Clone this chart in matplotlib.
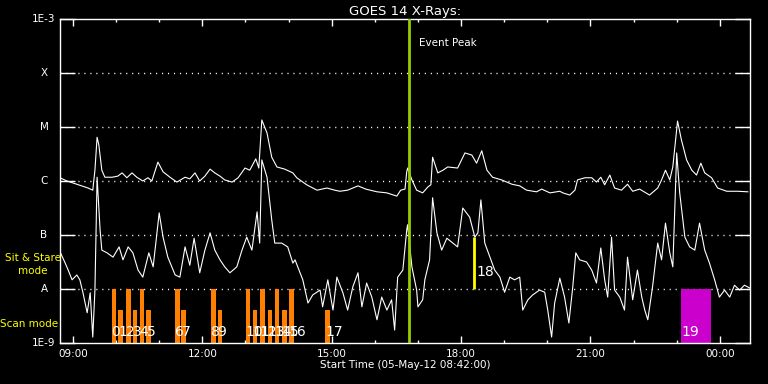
import matplotlib
matplotlib.use('Agg')
import matplotlib.pyplot as plt
import numpy as np

# 时间 (小时, 05-May-12 00:00 起), 通量用 log10(W/m^2)
t_long = [8.70, 8.86, 9.09, 9.35, 9.46, 9.51, 9.56, 9.60, 9.67, 9.74, 9.91, 10.04, 10.14, 10.25,
          10.37, 10.48, 10.62, 10.74, 10.83, 10.97, 11.09, 11.25, 11.41, 11.60, 11.71, 11.83, 11.94,
          12.06, 12.18, 12.29, 12.41, 12.52, 12.69, 12.83, 12.99, 13.10, 13.24, 13.31, 13.38, 13.50,
          13.61, 13.73, 13.91, 14.10, 14.19, 14.42, 14.66, 14.89, 15.07, 15.19, 15.37, 15.61, 15.79,
          16.05, 16.28, 16.51, 16.60, 16.70, 16.74, 16.76, 16.86, 16.97, 17.11, 17.23, 17.30, 17.34,
          17.46, 17.58, 17.69, 17.92, 18.09, 18.25, 18.36, 18.48, 18.60, 18.73, 18.94, 19.18, 19.36,
          19.52, 19.75, 19.87, 20.06, 20.29, 20.36, 20.52, 20.64, 20.70, 20.87, 21.03, 21.14, 21.24,
          21.33, 21.45, 21.56, 21.72, 21.86, 21.98, 22.14, 22.37, 22.56, 22.65, 22.74, 22.84, 22.91,
          23.02, 23.11, 23.23, 23.35, 23.46, 23.56, 23.65, 23.81, 23.95, 24.16, 24.41, 24.65]
lg_long = [-5.94, -6.00, -6.06, -6.13, -6.17, -5.80, -5.19, -5.33, -5.80, -5.93, -5.93, -5.91, -5.85, -5.94,
           -5.85, -5.93, -6.00, -5.94, -6.00, -5.65, -5.83, -5.93, -6.02, -5.93, -5.96, -5.85, -6.00,
           -5.91, -5.78, -5.85, -5.91, -5.98, -6.02, -5.94, -5.76, -5.80, -5.59, -5.76, -4.87, -5.11,
           -5.56, -5.74, -5.78, -5.85, -5.94, -6.07, -6.17, -6.13, -6.17, -6.19, -6.17, -6.09, -6.15,
           -6.20, -6.22, -6.28, -6.17, -6.15, -5.83, -5.76, -5.98, -6.17, -6.22, -6.11, -6.07, -5.56,
           -5.85, -5.80, -5.74, -5.76, -5.48, -5.52, -5.67, -5.44, -5.80, -5.93, -5.98, -6.06, -6.09,
           -6.17, -6.20, -6.15, -6.22, -6.19, -6.22, -6.26, -6.17, -5.98, -5.94, -5.94, -6.02, -5.93,
           -6.07, -5.89, -6.13, -6.17, -6.06, -6.19, -6.15, -6.26, -6.13, -5.98, -5.80, -5.98, -5.74,
           -4.89, -5.24, -5.61, -5.80, -5.89, -5.67, -5.85, -5.94, -6.13, -6.19, -6.19, -6.20]

t_short = [8.70, 8.82, 8.89, 8.98, 9.09, 9.16, 9.23, 9.33, 9.40, 9.46, 9.51, 9.56, 9.63, 9.67, 9.79,
           9.93, 10.07, 10.16, 10.28, 10.39, 10.51, 10.62, 10.76, 10.86, 11.00, 11.09, 11.20, 11.37,
           11.48, 11.60, 11.71, 11.81, 11.94, 12.06, 12.18, 12.29, 12.41, 12.52, 12.64, 12.80, 12.92,
           13.03, 13.15, 13.27, 13.33, 13.38, 13.50, 13.61, 13.68, 13.84, 13.98, 14.10, 14.15, 14.33,
           14.45, 14.56, 14.73, 14.79, 14.91, 15.03, 15.12, 15.26, 15.37, 15.49, 15.61, 15.70, 15.81,
           15.93, 16.05, 16.16, 16.28, 16.39, 16.46, 16.53, 16.65, 16.74, 16.76, 16.86, 16.97, 17.00,
           17.11, 17.16, 17.27, 17.34, 17.44, 17.55, 17.67, 17.81, 17.92, 18.04, 18.20, 18.32, 18.39,
           18.46, 18.55, 18.67, 18.78, 18.90, 19.01, 19.13, 19.24, 19.36, 19.43, 19.55, 19.66, 19.82,
           19.94, 20.01, 20.10, 20.17, 20.29, 20.40, 20.50, 20.59, 20.66, 20.75, 20.91, 21.03, 21.14,
           21.24, 21.33, 21.40, 21.49, 21.56, 21.68, 21.79, 21.86, 21.98, 22.09, 22.19, 22.26, 22.33,
           22.44, 22.56, 22.65, 22.74, 22.84, 22.91, 23.00, 23.07, 23.19, 23.30, 23.42, 23.53, 23.65,
           23.76, 23.88, 23.99, 24.11, 24.23, 24.34, 24.46, 24.57, 24.69]
lg_short = [-7.31, -7.52, -7.65, -7.83, -7.74, -7.83, -8.06, -8.44, -8.07, -8.89, -8.02, -5.93, -6.91, -7.28, -7.33,
            -7.41, -7.22, -7.46, -7.22, -7.33, -7.65, -7.78, -7.33, -7.59, -6.59, -7.04, -7.41, -7.74,
            -7.78, -7.22, -7.56, -7.06, -7.70, -7.28, -6.96, -7.28, -7.46, -7.59, -7.70, -7.59, -7.28,
            -7.04, -7.28, -6.57, -7.15, -5.61, -5.93, -6.72, -7.15, -7.15, -7.22, -7.52, -7.46, -7.83,
            -8.26, -8.11, -8.02, -8.33, -7.83, -8.39, -7.78, -8.07, -8.39, -7.96, -7.70, -8.33, -7.89,
            -8.15, -8.57, -8.15, -8.39, -8.20, -8.76, -7.78, -7.65, -6.91, -6.81, -7.59, -8.02, -8.33,
            -8.20, -7.83, -7.46, -6.31, -6.96, -7.28, -7.06, -7.15, -7.22, -6.50, -6.67, -7.04, -6.96,
            -6.35, -7.15, -7.41, -7.65, -7.78, -8.06, -7.78, -7.83, -7.78, -8.39, -8.20, -8.11, -8.02,
            -8.06, -8.39, -8.89, -8.26, -7.80, -8.15, -8.63, -7.96, -7.33, -7.46, -7.50, -7.65, -7.89,
            -7.24, -7.83, -8.15, -7.04, -8.02, -8.15, -8.39, -7.41, -8.20, -7.65, -8.15, -8.39, -8.57,
            -7.96, -7.15, -7.46, -6.78, -7.33, -7.59, -5.48, -6.22, -7.04, -7.22, -7.28, -6.78, -7.28,
            -7.52, -7.83, -8.15, -8.02, -8.15, -7.93, -8.02, -7.93, -7.98]

# 扫描模式观测 0-17
scan_t = [9.95, 10.11, 10.28, 10.44, 10.60, 10.76, 11.42, 11.57, 12.26, 12.41,
          13.06, 13.22, 13.39, 13.57, 13.73, 13.90, 14.06, 14.91]
scan_top = [1e-8, 4e-9, 1e-8, 4e-9, 1e-8, 4e-9, 1e-8, 4e-9, 1e-8, 4e-9,
            1e-8, 4e-9, 1e-8, 4e-9, 1e-8, 4e-9, 1e-8, 4e-9]
scan_id = list(range(18))

# 凝视模式 18, 扫描 19
sit_t = 18.29
sit_top = 9.3e-8
box_start = 23.09
box_end = 23.79
peak_t = 16.79

levels = [1e-9, 1e-8, 1e-7, 1e-6, 1e-5, 1e-4, 1e-3]
level_names = ['1E-9', 'A', 'B', 'C', 'M', 'X', '1E-3']
hour_major = [9, 12, 15, 18, 21, 24]
hour_labels = ['09:00', '12:00', '15:00', '18:00', '21:00', '00:00']

fig = plt.figure(figsize=(7.68, 3.84), dpi=100, facecolor='black')
ax = fig.add_axes([60/768, 41/384, 690/768, 324/384], facecolor='black')
ax.set_yscale('log')
ax.set_ylim(1e-9, 1e-3)
ax.set_xlim(8.7, 24.7)

# 网格
for lv in levels[1:-1]:
    ax.axhline(lv, color='white', lw=1, ls=(0, (0.8, 3.5)), zorder=1)

# 扫描模式柱子
bw = 0.11
ax.bar(scan_t, np.array(scan_top) - 1e-9, bottom=1e-9, width=bw, color='#ff8000', zorder=2)
for t, i in zip(scan_t, scan_id):
    ax.text(t - bw/2, 1.6e-9, str(i), color='white', fontsize=10, va='center', ha='left', zorder=5)

ax.bar([box_start], [1e-8 - 1e-9], bottom=1e-9, width=box_end - box_start, align='edge',
       color='#cc00cc', zorder=2)
ax.text(box_start + 0.02, 1.6e-9, '19', color='white', fontsize=10, va='center', ha='left', zorder=5)

ax.vlines(sit_t, 1e-8, sit_top, color='#ffff00', lw=2, zorder=2)
ax.text(sit_t + 0.07, 2.05e-8, '18', color='white', fontsize=10, va='center', ha='left', zorder=5)

ax.plot(t_long, 10 ** np.array(lg_long), color='white', lw=0.8, zorder=3)
ax.plot(t_short, 10 ** np.array(lg_short), color='white', lw=0.8, zorder=3)

ax.axvline(peak_t, color='#99cc00', lw=2, zorder=4)
ax.text(peak_t + 0.23, 3.6e-4, 'Event Peak', color='white', fontsize=7.5, va='center', ha='left')

# 坐标轴
for s in ax.spines.values():
    s.set_color('white')
    s.set_linewidth(1)
ax.set_yticks(levels)
ax.set_yticklabels([])
ax.yaxis.set_minor_locator(matplotlib.ticker.NullLocator())
ax.tick_params(axis='y', which='major', direction='in', length=10.8, width=1, color='white',
               left=True, right=True)
for lv, name in zip(levels, level_names):
    ax.text(-16/690, lv, name, color='white', fontsize=7.5, ha='center', va='center',
            transform=ax.get_yaxis_transform())

ax.set_xticks(hour_major)
ax.set_xticklabels(hour_labels)
ax.set_xticks(range(9, 25), minor=True)
ax.tick_params(axis='x', which='major', direction='in', length=5, width=1, color='white',
               top=True, bottom=True, labelcolor='white', labelsize=7.5, pad=4)
ax.tick_params(axis='x', which='minor', direction='in', length=2.5, width=1, color='white',
               top=True, bottom=True)

ax.set_title('GOES 14 X-Rays:', color='white', fontsize=9.5, pad=3)
ax.set_xlabel('Start Time (05-May-12 08:42:00)', color='white', fontsize=7.5, labelpad=1)

fig.text(33/768, 1 - 258/384, 'Sit & Stare', color='#ffff00', fontsize=7.5, ha='center', va='center')
fig.text(33/768, 1 - 271/384, 'mode', color='#ffff00', fontsize=7.5, ha='center', va='center')
fig.text(29/768, 1 - 324/384, 'Scan mode', color='#ffff00', fontsize=7.5, ha='center', va='center')

fig.savefig('out.png', dpi=100, facecolor='black')
